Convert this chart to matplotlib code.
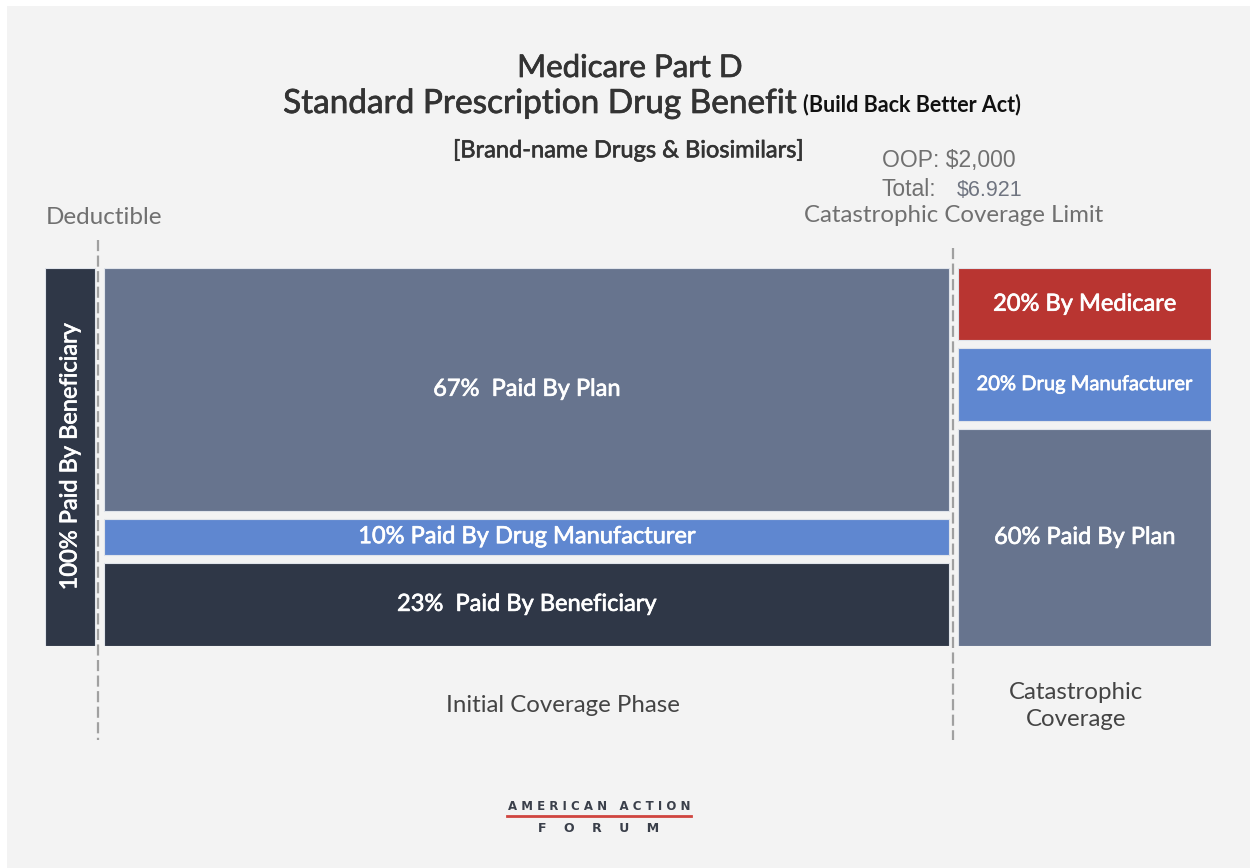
import matplotlib
matplotlib.use("Agg")
import matplotlib.pyplot as plt
from matplotlib.patches import Rectangle
import matplotlib.patheffects as pe

# ---------------- data ----------------
phases = ["Deductible", "Initial Coverage Phase", "Catastrophic\nCoverage"]

deductible_shares = [100]
deductible_labels = ["100% Paid By Beneficiary"]

# stacked bottom -> top
initial_shares = [23, 10, 67]
initial_labels = ["23%  Paid By Beneficiary", "10% Paid By Drug Manufacturer", "67%  Paid By Plan"]

catastrophic_shares = [60, 20, 20]
catastrophic_labels = ["60% Paid By Plan", "20% Drug Manufacturer", "20% By Medicare"]

oop_limit = "$2,000"
total_limit = "$6.921"

# ---------------- styles ----------------
C_BEN = "#2f3747"
C_MFR = "#5f87d0"
C_PLAN = "#67748e"
C_MED = "#b93531"
initial_colors = [C_BEN, C_MFR, C_PLAN]
catastrophic_colors = [C_PLAN, C_MFR, C_MED]

FONT = "Lato"
W, H = 1250, 868
fig = plt.figure(figsize=(W / 100, H / 100), dpi=100, facecolor="white")


def medium(color, lw=0.5):
    return [pe.withStroke(linewidth=lw, foreground=color)]


# background panel
fig.patches.append(Rectangle((7 / W, 0), 1 - 7 / W, 1 - 6 / H, transform=fig.transFigure,
                             facecolor="#f3f3f3", edgecolor="none", zorder=0))

# ---------------- bars axes ----------------
bx0, bx1, by0, by1 = 45, 1211, 268, 646
axb = fig.add_axes([bx0 / W, 1 - by1 / H, (bx1 - bx0) / W, (by1 - by0) / H])
axb.set_zorder(1)
axb.patch.set_visible(False)
gap = 2.2
axb.set_xlim(bx0, bx1)
axb.set_ylim(0, 100 + 2 * gap)
axb.axis("off")

segments = [
    (45, 50, deductible_shares, deductible_labels, [C_BEN]),
    (104, 845, initial_shares, initial_labels, initial_colors),
    (958, 253, catastrophic_shares, catastrophic_labels, catastrophic_colors),
]

for left, width, shares, labels, colors in segments:
    n = len(shares)
    bottom = 0.0
    for v, lab, col in zip(shares, labels, colors):
        h = v if n > 1 else 100 + 2 * gap
        axb.bar(left, h, width=width, bottom=bottom, align="edge", color=col,
                edgecolor="#dfe3ea", linewidth=0.8)
        cx = left + width / 2
        cy = bottom + h / 2
        if n == 1:
            axb.text(cx, cy, lab, rotation=90, ha="center", va="center", color="white",
                     fontsize=17, family=FONT, path_effects=medium("white"))
        else:
            fs = 17
            if "Drug Manufacturer" in lab and width < 400:
                fs = 14.5
            axb.text(cx, cy, lab, ha="center", va="center", color="white",
                     fontsize=fs, family=FONT, path_effects=medium("white"))
        bottom += h + gap

# ---------------- overlay axes (pixel coordinates) ----------------
ax = fig.add_axes([0, 0, 1, 1])
ax.set_zorder(2)
ax.patch.set_visible(False)
ax.set_xlim(0, W)
ax.set_ylim(H, 0)
ax.axis("off")

# dashed phase boundaries
ax.plot([98, 98], [240, 740], color="#a0a0a0", lw=1.6, dashes=(5, 2))
ax.plot([953, 953], [248, 740], color="#a0a0a0", lw=1.6, dashes=(5, 2))

# titles
ax.text(630, 68, "Medicare Part D", ha="center", va="center", fontsize=22.5,
        family=FONT, color="#333333", path_effects=medium("#333333", 0.5))
ax.text(797, 104, "Standard Prescription Drug Benefit", ha="right", va="center", fontsize=24,
        family=FONT, color="#333333", path_effects=medium("#333333", 0.5))
ax.text(803, 105, "(Build Back Better Act)", ha="left", va="center", fontsize=15.5,
        family=FONT, fontweight="bold", color="#111111")
ax.text(628, 150, "[Brand-name Drugs & Biosimilars]", ha="center", va="center", fontsize=17,
        family=FONT, color="#333333", path_effects=medium("#333333", 0.45))

# limit annotation
ax.text(882, 160, "OOP: " + oop_limit, ha="left", va="center", fontsize=16.5,
        family="Liberation Sans", color="#707070")
ax.text(882, 189, "Total:", ha="left", va="center", fontsize=16.5,
        family="Liberation Sans", color="#707070")
ax.text(957, 191, total_limit, ha="left", va="center", fontsize=15.5,
        family="Liberation Sans", color="#6f7480")
ax.text(954, 216, "Catastrophic Coverage Limit", ha="center", va="center", fontsize=17.3,
        family=FONT, color="#707070")

# phase labels
ax.text(104, 218, phases[0], ha="center", va="center", fontsize=17.5, family=FONT, color="#707070")
ax.text(563, 706, phases[1], ha="center", va="center", fontsize=17.3, family=FONT, color="#444444")
ax.text(1076, 706, phases[2], ha="center", va="center", fontsize=17.3, family=FONT,
        color="#444444", linespacing=1.35)

# logo
ax.text(599, 806, "A M E R I C A N   A C T I O N", ha="center", va="center", fontsize=8.5,
        family="DejaVu Sans", fontweight="bold", color="#3a3f4a")
ax.plot([507, 691], [816, 816], color="#d0453f", lw=2)
ax.text(599, 828, "F    O    R    U    M", ha="center", va="center", fontsize=9,
        family="DejaVu Sans", fontweight="bold", color="#3a3f4a")

fig.savefig("out.png", dpi=100, facecolor="white")
